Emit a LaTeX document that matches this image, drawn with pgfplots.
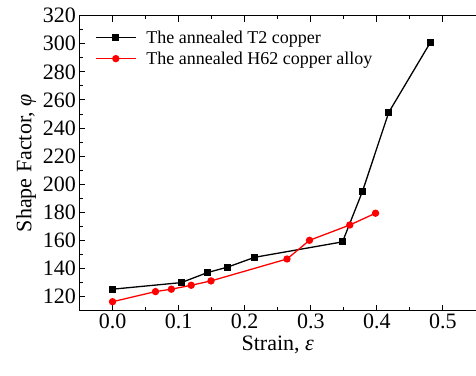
\documentclass[border=0pt]{standalone}
\usepackage{pgfplots}
\pgfplotsset{compat=1.18}
\usepackage{fontspec}
\setmainfont{Liberation Serif}
\begin{document}
\begin{tikzpicture}
\begin{axis}[
  name=ax,
  scale only axis,
  width=396.5pt, height=295pt,
  xmin=-0.05, xmax=0.55,
  ymin=110, ymax=320,
  axis x line=box, axis y line=left,
  axis line style={line width=1.2pt, -},
  xtick={0,0.1,0.2,0.3,0.4,0.5},
  ytick={120,140,...,320},
  minor x tick num=1, minor y tick num=1,
  tick align=inside,
  major tick length=6pt, minor tick length=3.5pt,
  every tick/.style={line width=1pt, black},
  /pgf/number format/assume math mode=true,
  xticklabel style={/pgf/number format/.cd, fixed, fixed zerofill, precision=1},
  yticklabel style={/pgf/number format/.cd, fixed, precision=0},
  tick label style={font=\fontsize{22}{26}\selectfont},
  label style={font=\fontsize{22}{26}\selectfont},
  xlabel={Strain, \textit{ε}},
  ylabel={Shape Factor, \textit{φ}},
  legend style={draw=none, fill=none, at={(0.039,0.95)}, anchor=north west,
    font=\fontsize{18}{20}\selectfont, row sep=7pt, inner sep=0pt,
    nodes={inner sep=0pt}},
  legend cell align=left,
  /tikz/every odd column/.append style={column sep=10pt},
  legend image code/.code={\draw[mark repeat=2,mark phase=2,#1] plot coordinates {(0pt,0pt) (20pt,0pt) (40pt,0pt)};},
]
\addplot[black, line width=1.3pt, mark=square*, mark size=2.8pt, mark options={solid}] coordinates {
(0.000,125.3) (0.104,130.0) (0.144,137.2) (0.174,141.0) (0.215,148.0) (0.348,159.0) (0.378,194.7) (0.418,251.2) (0.481,301.0)
};
\addlegendentry{The annealed T2 copper}
\addplot[red, line width=1.3pt, mark=*, mark size=3pt, mark options={solid}] coordinates {
(0.000,116.4) (0.065,123.6) (0.089,125.3) (0.119,128.1) (0.149,131.2) (0.264,146.8) (0.298,160.1) (0.359,171.0) (0.398,179.4)
};
\addlegendentry{The annealed H62 copper alloy}
\end{axis}
\pgfresetboundingbox
\path[use as bounding box] ([shift={(-79.5pt,-65.3pt)}]ax.south west) rectangle ([shift={(0pt,15.7pt)}]ax.north east);
\end{tikzpicture}
\end{document}
